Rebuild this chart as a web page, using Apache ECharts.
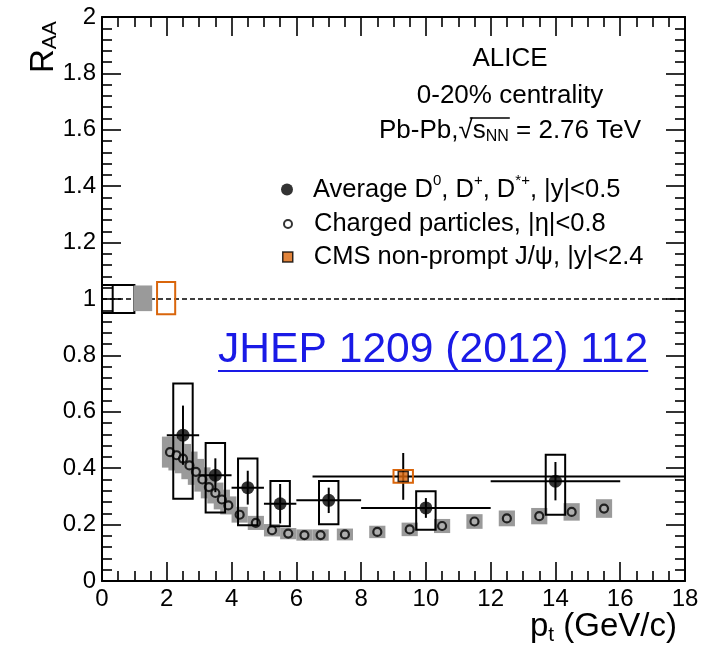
<!DOCTYPE html>
<html><head><meta charset="utf-8">
<script src="https://cdn.jsdelivr.net/npm/echarts@6/dist/echarts.min.js"></script>
<style>html,body{margin:0;padding:0;background:#fff}#c{width:704px;height:647px}</style>
</head><body><div id="c"></div>
<script>
// ---------------- data ----------------
// Charged particles, |eta|<0.8
const chPt  = [2.1,2.3,2.5,2.7,2.9,3.1,3.3,3.5,3.7,3.9,4.25,4.75,5.25,5.75,6.25,6.75,7.5,8.5,9.5,10.5,11.5,12.5,13.5,14.5,15.5];
const chVal = [0.457,0.446,0.434,0.410,0.387,0.360,0.333,0.312,0.289,0.268,0.235,0.206,0.180,0.168,0.163,0.163,0.165,0.174,0.183,0.195,0.211,0.222,0.230,0.245,0.257];
const chSys = [0.055,0.054,0.052,0.049,0.046,0.043,0.040,0.037,0.035,0.032,0.028,0.025,0.022,0.020,0.020,0.020,0.021,0.022,0.024,0.025,0.026,0.028,0.029,0.031,0.033];
// Average D0, D+, D*+, |y|<0.5
const dPt    = [2.5,3.5,4.5,5.5,7,10,14];
const dVal   = [0.517,0.375,0.331,0.274,0.286,0.259,0.354];
const dStat  = [0.105,0.060,0.060,0.070,0.045,0.035,0.068];
const dSysUp = [0.183,0.114,0.103,0.081,0.069,0.059,0.094];
const dSysDn = [0.225,0.132,0.133,0.080,0.085,0.077,0.119];
const dXlo   = [2,3,4,5,6,8,12];
const dXhi   = [3,4,5,6,8,12,16];
// CMS non-prompt J/psi, |y|<2.4
const cmsPt   = [9.3];
const cmsVal  = [0.371];
const cmsStat = [0.083];
const cmsSys  = [0.023];
const cmsXlo  = [6.5];
const cmsXhi  = [30];
// normalisation uncertainty boxes at R_AA = 1
const normXlo  = [0, 0, 0.98, 1.70];
const normXhi  = [0.33, 1, 1.55, 2.26];
const normLo   = [0.95, 0.95, 0.957, 0.946];
const normHi   = [1.05, 1.05, 1.048, 1.06];
const normKind = ['open', 'open', 'gray', 'orange'];
// axes
const xRange = [0, 18];
const yRange = [0, 2];
const xStep = 2, yStep = 0.2;
const refLine = [[0, 1], [18, 1]];

// ---------------- style ----------------
const FONT = '"Liberation Sans", Arial, Helvetica, sans-serif';
const ORANGE = '#d9650b';
const GRAY = '#9a9a9a';
const ctx = document.createElement('canvas').getContext('2d');
function tw(t, s) { ctx.font = s + 'px ' + FONT; return ctx.measureText(t).width; }

const chart = echarts.init(document.getElementById('c'), null, {renderer: 'canvas'});

function axisBase(extra) {
  return Object.assign({
    type: 'value',
    axisLine: {show: true, onZero: false, lineStyle: {color: '#000', width: 2}},
    axisTick: {show: true, inside: true, length: 19, lineStyle: {color: '#000', width: 1.6}},
    minorTick: {show: true, length: 10, lineStyle: {color: '#000', width: 1.6}},
    splitLine: {show: false},
    minorSplitLine: {show: false}
  }, extra);
}

const richMain = (s) => ({fontSize: s, fontFamily: FONT, color: '#000'});

// Pb-Pb line geometry
const PB_SIZE = 26, PB_SUB = 16, PB_CX = 510, PB_CY = 131;
const pbA = tw('Pb-Pb,', PB_SIZE), pbR = tw('\u221A', PB_SIZE), pbS = tw('s', PB_SIZE), pbN = tw('NN', PB_SUB), pbB = tw(' = 2.76 TeV', PB_SIZE);
const pbW = pbA + pbR + pbS + pbN + pbB;
const pbLeft = PB_CX - pbW / 2;

const JHEP = 'JHEP 1209 (2012) 112';
const JHEP_SIZE = 42.6, JHEP_X = 218, JHEP_Y = 350;
const jhepW = tw(JHEP, JHEP_SIZE);

const option = {
  animation: false,
  backgroundColor: '#fff',
  textStyle: {fontFamily: FONT},
  grid: {left: 102, right: 19, top: 17, bottom: 66, containLabel: false, outerBoundsMode: 'none'},
  xAxis: [
    axisBase({min: xRange[0], max: xRange[1], interval: xStep, position: 'bottom',
      minorTick: {show: true, splitNumber: 4, length: 10, lineStyle: {color: '#000', width: 1.6}},
      axisLabel: {show: true, fontSize: 24, color: '#000', margin: 6, fontFamily: FONT}}),
    axisBase({min: xRange[0], max: xRange[1], interval: xStep, position: 'top',
      minorTick: {show: true, splitNumber: 4, length: 10, lineStyle: {color: '#000', width: 1.6}},
      axisLabel: {show: false}})
  ],
  yAxis: [
    axisBase({min: yRange[0], max: yRange[1], interval: yStep, position: 'left',
      minorTick: {show: true, splitNumber: 5, length: 10, lineStyle: {color: '#000', width: 1.6}},
      axisLabel: {show: true, fontSize: 24, color: '#000', margin: 6, fontFamily: FONT}}),
    axisBase({min: yRange[0], max: yRange[1], interval: yStep, position: 'right',
      minorTick: {show: true, splitNumber: 5, length: 10, lineStyle: {color: '#000', width: 1.6}},
      axisLabel: {show: false}})
  ],
  legend: [
    {data: ['D'], left: 281, top: 173, padding: 0, itemWidth: 12, itemHeight: 12, icon: 'circle', selectedMode: false,
      itemStyle: {color: '#000', borderWidth: 0},
      formatter: () => '{t|Average D}{s|0}{t|, D}{s|+}{t|, D}{s|*+}{t|, |y|<0.5}',
      textStyle: {padding: [0, 0, 0, 15], rich: {t: Object.assign(richMain(25.5), {lineHeight: 30}), s: Object.assign(richMain(15), {padding: [0, 0, 18, 0]})}}},
    {data: ['CH'], left: 283, top: 211, padding: 0, itemWidth: 8, itemHeight: 8, icon: 'circle', selectedMode: false,
      itemStyle: {color: '#fff', borderColor: '#000', borderWidth: 2},
      formatter: () => '{t|Charged particles, |\u03B7|<0.8}',
      textStyle: {padding: [0, 0, 0, 17], rich: {t: Object.assign(richMain(25.5), {lineHeight: 30})}}},
    {data: ['CMS'], left: 282, top: 244, padding: 0, itemWidth: 10, itemHeight: 10, icon: 'rect', selectedMode: false,
      itemStyle: {color: ORANGE, borderColor: '#000', borderWidth: 1.5},
      formatter: () => '{t|CMS non-prompt J/\u03C8, |y|<2.4}',
      textStyle: {padding: [0, 0, 0, 16], rich: {t: Object.assign(richMain(25.5), {lineHeight: 30})}}}
  ],
  graphic: [
    {type: 'text', x: 510, y: 59, style: {text: 'ALICE', font: '26px ' + FONT, fill: '#000', align: 'center', verticalAlign: 'middle'}},
    {type: 'text', x: 510, y: 96, style: {text: '0-20% centrality', font: '26px ' + FONT, fill: '#000', align: 'center', verticalAlign: 'middle'}},
    {type: 'text', x: pbLeft, y: PB_CY, style: {text: '{a|Pb-Pb,\u221As}{b|NN}{a| = 2.76 TeV}', align: 'left', verticalAlign: 'middle',
      rich: {a: richMain(PB_SIZE), b: Object.assign(richMain(PB_SUB), {padding: [12, 0, 0, 0]})}}},
    {type: 'line', shape: {x1: pbLeft + pbA + pbR * 0.8, y1: PB_CY - 13, x2: pbLeft + pbA + pbR + pbS + pbN + 1, y2: PB_CY - 13}, style: {stroke: '#000', lineWidth: 1.5}},
    {type: 'text', x: JHEP_X, y: JHEP_Y, style: {text: JHEP, font: JHEP_SIZE + 'px ' + FONT, fill: '#1a1ae6', align: 'left', verticalAlign: 'middle'}},
    {type: 'rect', shape: {x: JHEP_X, y: JHEP_Y + 20, width: jhepW, height: 2}, style: {fill: '#1a1ae6'}},
    // axis titles
    {type: 'text', x: 677, y: 627, style: {text: '{a|p}{b|t}{a| (GeV/c)}', align: 'right', verticalAlign: 'middle',
      rich: {a: richMain(33), b: Object.assign(richMain(21), {padding: [16, 0, 0, 0]})}}},
    {type: 'text', x: 44, y: 73, rotation: Math.PI / 2, style: {text: '{a|R}{b|AA}', align: 'left', verticalAlign: 'middle',
      rich: {a: richMain(33), b: Object.assign(richMain(21), {padding: [12, 0, 0, 0]})}}}
  ],
  series: [
    { // charged particle systematic boxes
      type: 'custom', name: 'chSys', z: 1, silent: true,
      data: chPt.map((x, i) => [x, chVal[i], chSys[i]]),
      renderItem: (p, api) => {
        const x = api.value(0), y = api.value(1), s = api.value(2);
        const a = api.coord([x - 0.25, y + s]), b = api.coord([x + 0.25, y - s]);
        return {type: 'rect', shape: {x: a[0], y: a[1], width: b[0] - a[0], height: b[1] - a[1]}, style: {fill: GRAY}};
      }
    },
    { // dashed reference line at 1
      type: 'line', name: 'ref', z: 2, silent: true, data: refLine, symbol: 'none',
      lineStyle: {color: '#000', width: 1.5, type: [5, 3]}
    },
    { // normalisation boxes
      type: 'custom', name: 'norm', z: 3, silent: true,
      data: normXlo.map((x, i) => [x, normXhi[i], normLo[i], normHi[i], i]),
      renderItem: (p, api) => {
        const i = api.value(4);
        const a = api.coord([api.value(0), api.value(3)]), b = api.coord([api.value(1), api.value(2)]);
        const k = normKind[i];
        const style = k === 'gray' ? {fill: GRAY} : {fill: 'none', stroke: k === 'orange' ? ORANGE : '#000', lineWidth: 2};
        return {type: 'rect', shape: {x: a[0], y: a[1], width: b[0] - a[0], height: b[1] - a[1]}, style: style};
      }
    },
    { // charged particle markers
      type: 'scatter', name: 'CH', z: 4, data: chPt.map((x, i) => [x, chVal[i]]),
      symbol: 'circle', symbolSize: 8, itemStyle: {color: 'rgba(255,255,255,0.25)', borderColor: '#000', borderWidth: 2.2}
    },
    { // D meson errors and boxes
      type: 'custom', name: 'dErr', z: 5, silent: true,
      data: dPt.map((x, i) => [x, dVal[i], dStat[i], dSysUp[i], dSysDn[i], dXlo[i], dXhi[i]]),
      renderItem: (p, api) => {
        const x = api.value(0), y = api.value(1), st = api.value(2), up = api.value(3), dn = api.value(4), xl = api.value(5), xh = api.value(6);
        const a = api.coord([x - 0.3, y + up]), b = api.coord([x + 0.3, y - dn]);
        const s1 = api.coord([x, y + st]), s2 = api.coord([x, y - st]);
        const h1 = api.coord([xl, y]), h2 = api.coord([xh, y]);
        const ls = {stroke: '#000', lineWidth: 2};
        return {type: 'group', children: [
          {type: 'rect', shape: {x: a[0], y: a[1], width: b[0] - a[0], height: b[1] - a[1]}, style: {fill: 'none', stroke: '#000', lineWidth: 2}},
          {type: 'line', shape: {x1: s1[0], y1: s1[1], x2: s2[0], y2: s2[1]}, style: ls},
          {type: 'line', shape: {x1: h1[0], y1: h1[1], x2: h2[0], y2: h2[1]}, style: ls}
        ]};
      }
    },
    { // CMS errors and box
      type: 'custom', name: 'cmsErr', z: 5, silent: true, clip: true,
      data: cmsPt.map((x, i) => [x, cmsVal[i], cmsStat[i], cmsSys[i], cmsXlo[i], cmsXhi[i]]),
      renderItem: (p, api) => {
        const x = api.value(0), y = api.value(1), st = api.value(2), sy = api.value(3), xl = api.value(4), xh = Math.min(api.value(5), xRange[1]);
        const a = api.coord([x - 0.3, y + sy]), b = api.coord([x + 0.3, y - sy]);
        const s1 = api.coord([x, y + st]), s2 = api.coord([x, y - st]);
        const h1 = api.coord([xl, y]), h2 = api.coord([xh, y]);
        const ls = {stroke: '#000', lineWidth: 2};
        return {type: 'group', children: [
          {type: 'line', shape: {x1: s1[0], y1: s1[1], x2: s2[0], y2: s2[1]}, style: ls},
          {type: 'line', shape: {x1: h1[0], y1: h1[1], x2: h2[0], y2: h2[1]}, style: ls},
          {type: 'rect', shape: {x: a[0], y: a[1], width: b[0] - a[0], height: b[1] - a[1]}, style: {fill: 'none', stroke: ORANGE, lineWidth: 2}}
        ]};
      }
    },
    {
      type: 'scatter', name: 'CMS', z: 6, data: cmsPt.map((x, i) => [x, cmsVal[i]]),
      symbol: 'rect', symbolSize: 10, itemStyle: {color: ORANGE, borderColor: '#000', borderWidth: 1.5}
    },
    {
      type: 'scatter', name: 'D', z: 7, data: dPt.map((x, i) => [x, dVal[i]]),
      symbol: 'circle', symbolSize: 13, itemStyle: {color: '#000'}
    }
  ]
};
chart.setOption(option);
</script>
</body></html>
